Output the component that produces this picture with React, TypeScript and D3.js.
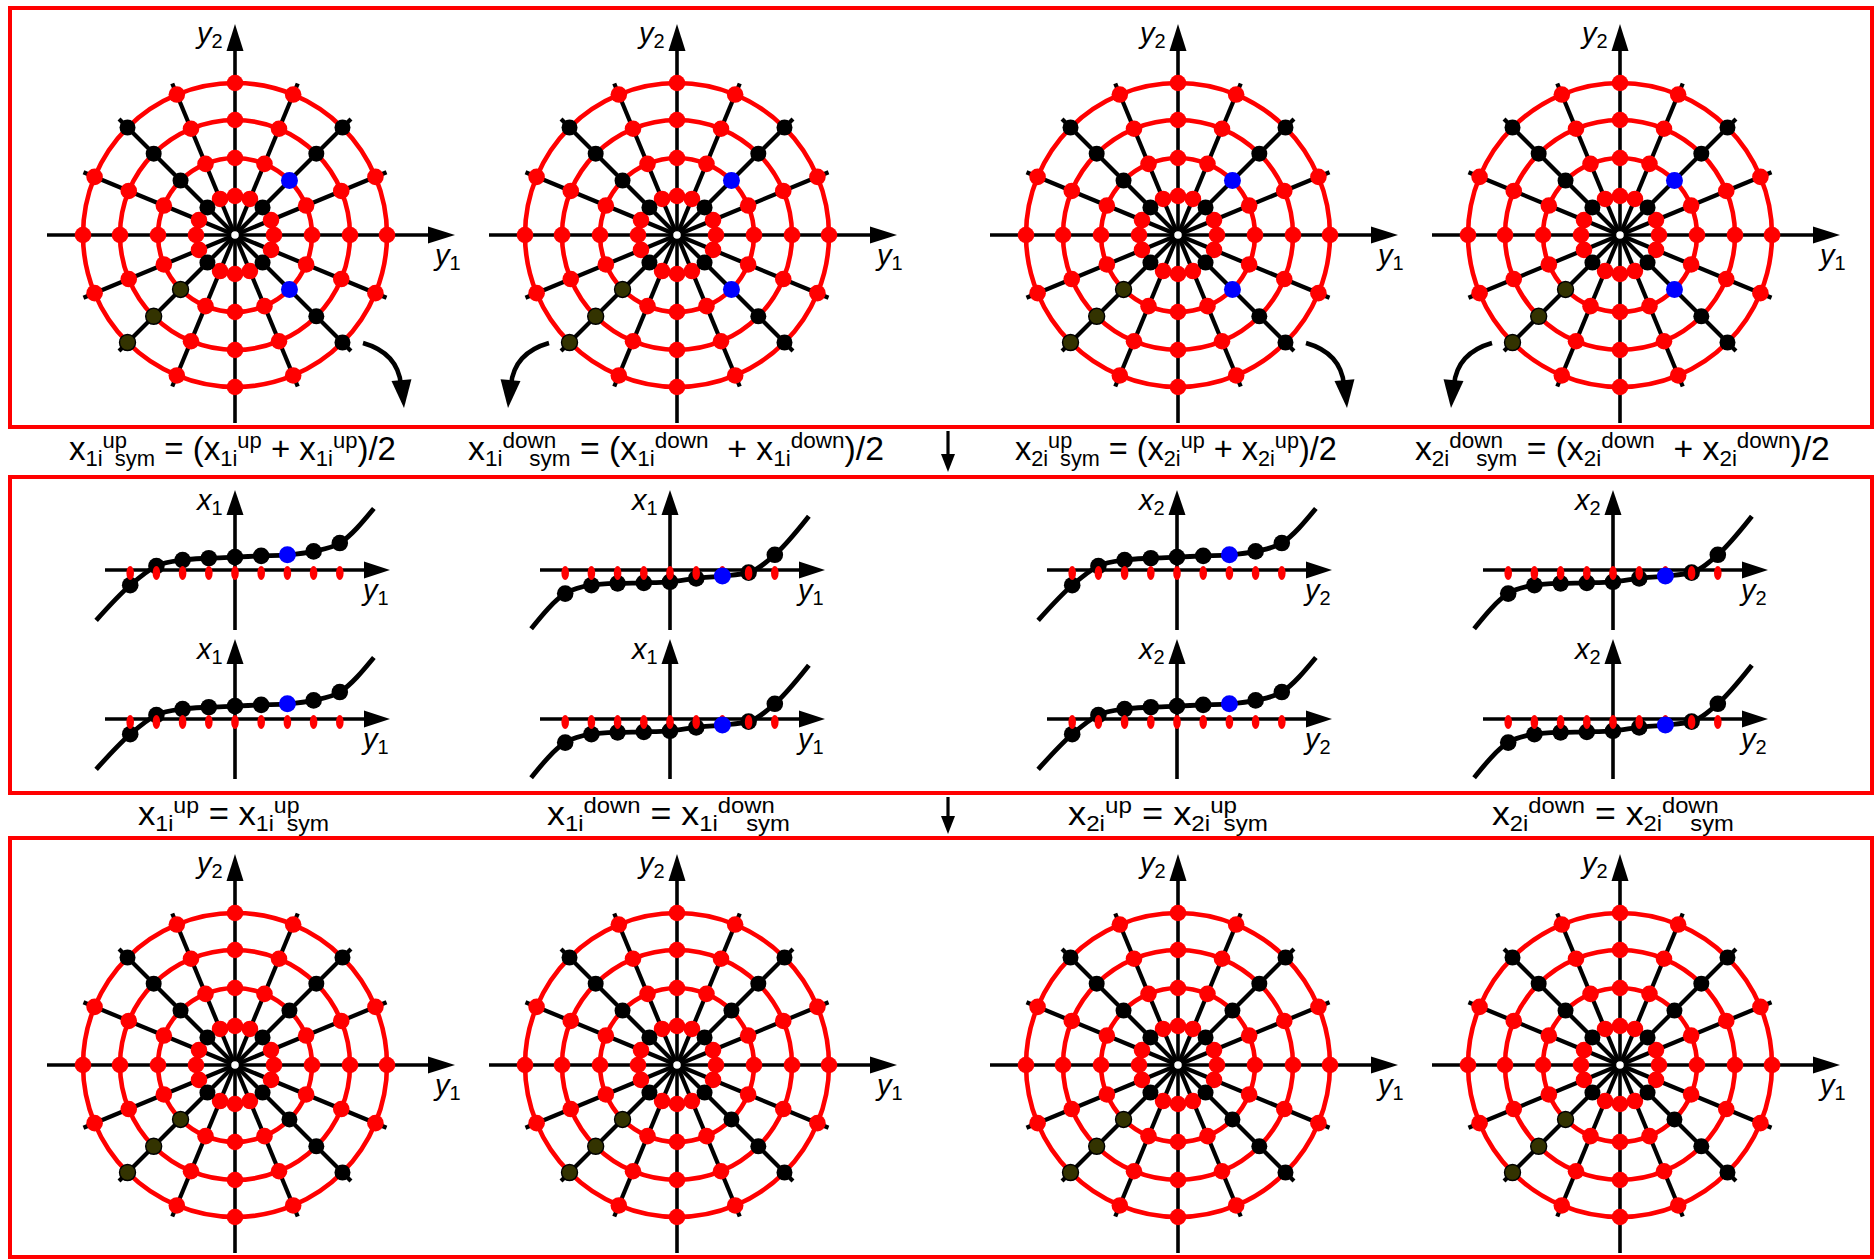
import React, { useEffect, useRef } from 'react';
import * as d3 from 'd3';

const FONT = '"Liberation Sans", Arial, Helvetica, sans-serif';
const RED = '#ff0000';
const BLUE = '#0000ff';
const OLIVE = '#333300';

// spider web geometry (degrees, counter-clockwise from +y1)
const spokeAngles = [0, 22.5, 45, 67.5, 90, 112.5, 135, 157.5, 180, 202.5, 225, 247.5, 270, 292.5, 315, 337.5];
const ringRadii = [39, 77, 115, 152];
const spokeReach = 164;

// node colours on the diagonal spokes, ring 1..4 (k black, b blue, o olive); all others red
const diagTop = { 45: ['k', 'b', 'k', 'k'], 135: ['k', 'k', 'k', 'k'], 225: ['k', 'o', 'o', 'o'], 315: ['k', 'b', 'k', 'k'] };
const diagBottom = { 45: ['k', 'k', 'k', 'k'], 135: ['k', 'k', 'k', 'k'], 225: ['k', 'o', 'o', 'o'], 315: ['k', 'k', 'k', 'k'] };

const webX = [235, 677, 1178, 1620];
const webTopY = 235;
const webBottomY = 1065;
const arrowSide = [1, -1, 1, -1];
const webLabels = [['y', '2', 'y', '1'], ['y', '2', 'y', '1'], ['y', '2', 'y', '1'], ['y', '2', 'y', '1']];

// 1D profiles x(y) in tick units
const tickY = [-4, -3, -2, -1, 0, 1, 2, 3, 4];
const profileUp = [-0.58, 0.15, 0.38, 0.45, 0.49, 0.54, 0.58, 0.71, 1.03];
const profileDown = [-0.9, -0.58, -0.51, -0.49, -0.45, -0.32, -0.23, -0.1, 0.58];
const endsUp = [[-5.3, -1.92], [5.3, 2.35]];
const endsDown = [[-5.3, -2.24], [5.3, 2.05]];
const blueIndex = 6;
const plotX = [235, 670, 1177, 1613];
const plotY = [570, 719];
const plotKind = ['up', 'down', 'up', 'down'];
const plotLabels = [['x', '1', 'y', '1'], ['x', '1', 'y', '1'], ['x', '2', 'y', '2'], ['x', '2', 'y', '2']];

// formulas: [text, n|sub|sup]
const formulasTop = [
  [['x', 'n'], ['1i', 'sub'], ['up', 'sup'], ['sym', 'sub'], [' = (x', 'n'], ['1i', 'sub'], ['up', 'sup'], [' + x', 'n'], ['1i', 'sub'], ['up', 'sup'], [')/2', 'n']],
  [['x', 'n'], ['1i', 'sub'], ['down', 'sup'], ['sym', 'sub'], [' = (x', 'n'], ['1i', 'sub'], ['down', 'sup'], ['  + x', 'n'], ['1i', 'sub'], ['down', 'sup'], [')/2', 'n']],
  [['x', 'n'], ['2i', 'sub'], ['up', 'sup'], ['sym', 'sub'], [' = (x', 'n'], ['2i', 'sub'], ['up', 'sup'], [' + x', 'n'], ['2i', 'sub'], ['up', 'sup'], [')/2', 'n']],
  [['x', 'n'], ['2i', 'sub'], ['down', 'sup'], ['sym', 'sub'], [' = (x', 'n'], ['2i', 'sub'], ['down', 'sup'], ['  + x', 'n'], ['2i', 'sub'], ['down', 'sup'], [')/2', 'n']],
];
const formulasBottom = [
  [['x', 'n'], ['1i', 'sub'], ['up', 'sup'], [' = x', 'n'], ['1i', 'sub'], ['up', 'sup'], ['sym', 'sub']],
  [['x', 'n'], ['1i', 'sub'], ['down', 'sup'], [' = x', 'n'], ['1i', 'sub'], ['down', 'sup'], ['sym', 'sub']],
  [['x', 'n'], ['2i', 'sub'], ['up', 'sup'], [' = x', 'n'], ['2i', 'sub'], ['up', 'sup'], ['sym', 'sub']],
  [['x', 'n'], ['2i', 'sub'], ['down', 'sup'], [' = x', 'n'], ['2i', 'sub'], ['down', 'sup'], ['sym', 'sub']],
];
const formulaTopX = [69, 468, 1015, 1415];
const formulaTopW = [327, 416, 322, 415];
const formulaBottomX = [138, 547, 1068, 1492];
const formulaBottomW = [191, 243, 200, 242];

const frames = [[10, 8, 1862, 419], [10, 477, 1862, 316], [10, 838, 1862, 419]];

function arrowHead(g, tip, from, len, half) {
  const dx = tip[0] - from[0], dy = tip[1] - from[1];
  const L = Math.hypot(dx, dy);
  const ux = dx / L, uy = dy / L;
  const bx = tip[0] - ux * len, by = tip[1] - uy * len;
  g.append('polygon')
    .attr('points', [[tip[0], tip[1]], [bx - uy * half, by + ux * half], [bx + uy * half, by - ux * half]].map(p => p.join(',')).join(' '))
    .attr('fill', '#000');
}

function label(g, x, y, main, sub) {
  const t = g.append('text').attr('x', x).attr('y', y).attr('font-family', FONT).attr('font-size', 29).attr('fill', '#000');
  t.append('tspan').attr('font-style', 'italic').text(main);
  t.append('tspan').attr('font-size', 20).attr('dy', 5).text(sub);
}

const rad = (deg) => (90 - deg) * Math.PI / 180;

function drawWeb(root, cx, cy, diag, side, labels) {
  const g = root.append('g').attr('transform', `translate(${cx},${cy})`);
  spokeAngles.filter(a => a % 90 !== 0).forEach(a => {
    const [x, y] = d3.pointRadial(rad(a), spokeReach);
    g.append('line').attr('x1', 0).attr('y1', 0).attr('x2', x).attr('y2', y)
      .attr('stroke', '#000').attr('stroke-width', 4.2);
  });
  g.append('line').attr('x1', -188).attr('y1', 0).attr('x2', 200).attr('y2', 0).attr('stroke', '#000').attr('stroke-width', 3.6);
  arrowHead(g, [220, 0], [0, 0], 27, 8.5);
  g.append('line').attr('x1', 0).attr('y1', 188).attr('x2', 0).attr('y2', -190).attr('stroke', '#000').attr('stroke-width', 3.6);
  arrowHead(g, [0, -211], [0, 0], 27, 8.5);

  ringRadii.forEach(r => {
    const ring = d3.lineRadial().angle(a => rad(a)).radius(r).curve(d3.curveCardinalClosed.tension(0));
    g.append('path').attr('d', ring(spokeAngles)).attr('fill', 'none').attr('stroke', RED).attr('stroke-width', 4.6);
  });

  const nodes = [];
  ringRadii.forEach((r, ri) => spokeAngles.forEach(a => {
    const kind = diag[a] ? diag[a][ri] : 'r';
    nodes.push({ a, r, kind });
  }));
  const colour = { r: RED, k: '#000', b: BLUE, o: OLIVE };
  nodes.sort((p, q) => (p.kind === 'r' ? 0 : 1) - (q.kind === 'r' ? 0 : 1)).forEach(n => {
    const [x, y] = d3.pointRadial(rad(n.a), n.r);
    g.append('circle').attr('cx', x).attr('cy', y)
      .attr('r', n.kind === 'b' ? 8.5 : n.kind === 'r' ? 8.3 : 8)
      .attr('fill', colour[n.kind])
      .attr('stroke', n.kind === 'o' ? '#000' : 'none').attr('stroke-width', 1.4);
  });
  g.append('circle').attr('r', 4.5).attr('fill', '#fff').attr('stroke', '#000').attr('stroke-width', 1.5);

  label(g, -38, -192, labels[0], labels[1]);
  label(g, 200, 30, labels[2], labels[3]);

  if (side) {
    const p = d3.path();
    p.moveTo(side * 128, 108);
    p.quadraticCurveTo(side * 163, 118, side * 166, 150);
    g.append('path').attr('d', p.toString()).attr('fill', 'none').attr('stroke', '#000').attr('stroke-width', 4.5);
    arrowHead(g, [side * 169, 173], [side * 166, 140], 28, 10);
  }
}

function drawPlot(root, ox, oy, kind, labels) {
  const g = root.append('g');
  const xs = d3.scaleLinear().domain([-1, 1]).range([ox - 26.2, ox + 26.2]);
  const ys = d3.scaleLinear().domain([-1, 1]).range([oy + 26.2, oy - 26.2]);
  const prof = kind === 'up' ? profileUp : profileDown;
  const ends = kind === 'up' ? endsUp : endsDown;

  g.append('line').attr('x1', ox - 130).attr('y1', oy).attr('x2', ox + 135).attr('y2', oy).attr('stroke', '#000').attr('stroke-width', 3.6);
  arrowHead(g, [ox + 155, oy], [ox, oy], 26, 8.5);
  g.append('line').attr('x1', ox).attr('y1', oy + 60).attr('x2', ox).attr('y2', oy - 62).attr('stroke', '#000').attr('stroke-width', 3.6);
  arrowHead(g, [ox, oy - 80], [ox, oy], 25, 8.5);

  const pts = [ends[0], ...tickY.map((t, i) => [t, prof[i]]), ends[1]];
  const line = d3.line().x(d => xs(d[0])).y(d => ys(d[1])).curve(d3.curveMonotoneX);
  g.append('path').attr('d', line(pts)).attr('fill', 'none').attr('stroke', '#000').attr('stroke-width', 4.8);

  tickY.forEach((t, i) => {
    if (i === blueIndex) return;
    g.append('circle').attr('cx', xs(t)).attr('cy', ys(prof[i])).attr('r', 8.3).attr('fill', '#000');
  });
  tickY.forEach(t => {
    g.append('ellipse').attr('cx', xs(t)).attr('cy', ys(0) + 3).attr('rx', 3.8).attr('ry', 7).attr('fill', RED);
  });
  g.append('circle').attr('cx', xs(tickY[blueIndex])).attr('cy', ys(prof[blueIndex])).attr('r', 8.5).attr('fill', BLUE);

  label(g, ox - 38, oy - 60, labels[0], labels[1]);
  label(g, ox + 128, oy + 30, labels[2], labels[3]);
}

function drawFormula(root, tokens, x0, width, baseline) {
  const t = root.append('text').attr('y', baseline).attr('font-family', FONT).attr('font-size', 33)
    .attr('fill', '#000').style('white-space', 'pre');
  let shift = 0;
  let prev = 'n';
  let prevLen = 0;
  tokens.forEach(([s, kind]) => {
    const target = kind === 'sup' ? -12 : kind === 'sub' ? 6 : 0;
    const ts = t.append('tspan').attr('dy', target - shift).attr('font-size', kind === 'n' ? 33 : 22).text(s);
    if (kind === 'sub' && prev === 'sup') ts.attr('dx', -prevLen / 2);
    if (kind === 'sup') prevLen = ts.node().getComputedTextLength();
    shift = target;
    prev = kind;
  });
  const bb = t.node().getBBox();
  const sx = width / bb.width;
  t.attr('transform', `translate(${x0},0) scale(${sx},1) translate(${-bb.x},0)`);
}

export default function App() {
  const ref = useRef(null);

  useEffect(() => {
    document.body.style.margin = '0';
    const svg = d3.select(ref.current);
    svg.selectAll('*').remove();

    frames.forEach(([x, y, w, h]) => {
      svg.append('rect').attr('x', x).attr('y', y).attr('width', w).attr('height', h)
        .attr('fill', 'none').attr('stroke', RED).attr('stroke-width', 4);
    });

    webX.forEach((cx, i) => drawWeb(svg, cx, webTopY, diagTop, arrowSide[i], webLabels[i]));
    webX.forEach((cx, i) => drawWeb(svg, cx, webBottomY, diagBottom, 0, webLabels[i]));

    plotX.forEach((ox, i) => plotY.forEach(oy => drawPlot(svg, ox, oy, plotKind[i], plotLabels[i])));

    formulasTop.forEach((f, i) => drawFormula(svg, f, formulaTopX[i], formulaTopW[i], 460));
    formulasBottom.forEach((f, i) => drawFormula(svg, f, formulaBottomX[i], formulaBottomW[i], 825));

    // flow arrows between panels
    svg.append('line').attr('x1', 948).attr('y1', 431).attr('x2', 948).attr('y2', 458).attr('stroke', '#000').attr('stroke-width', 3.2);
    arrowHead(svg, [948, 472], [948, 431], 18, 7);
    svg.append('line').attr('x1', 948).attr('y1', 797).attr('x2', 948).attr('y2', 820).attr('stroke', '#000').attr('stroke-width', 3.2);
    arrowHead(svg, [948, 834], [948, 797], 18, 7);
  }, []);

  return <svg ref={ref} width={1876} height={1259} style={{ display: 'block', background: '#fff' }} />;
}
